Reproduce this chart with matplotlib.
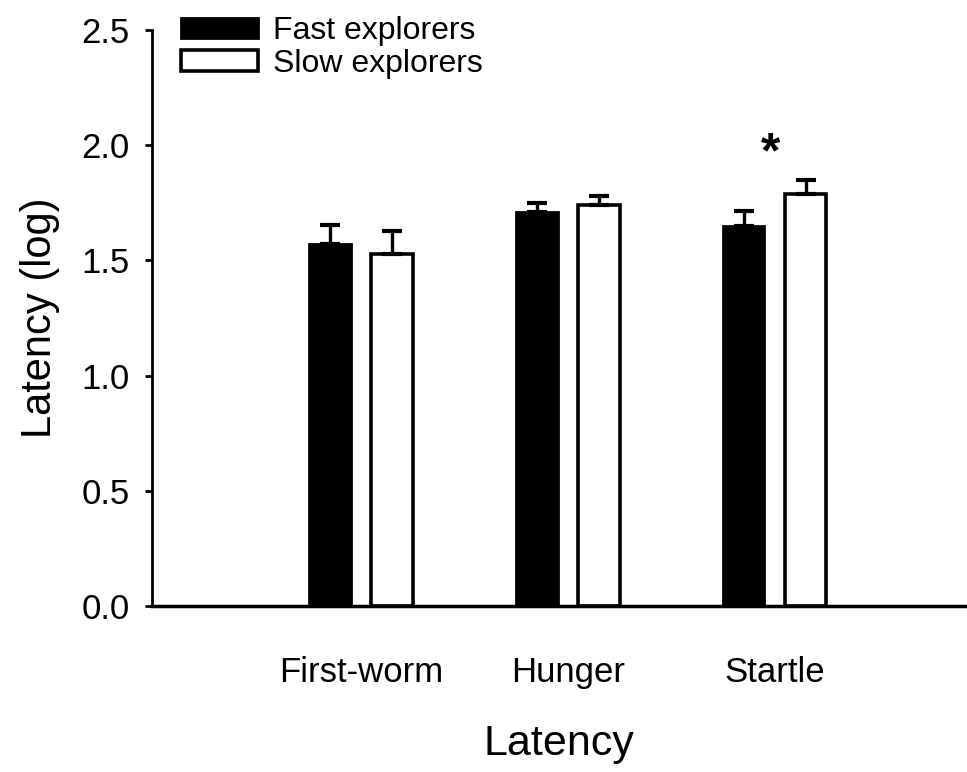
import numpy as np
import matplotlib.pyplot as plt

plt.rcParams['font.family'] = ['Liberation Sans', 'DejaVu Sans']

# data
categories = ["First-worm", "Hunger", "Startle"]
fast_mean = [1.57, 1.71, 1.65]
fast_err = [0.085, 0.04, 0.066]
slow_mean = [1.53, 1.74, 1.79]
slow_err = [0.10, 0.04, 0.06]

fig = plt.figure(figsize=(9.67, 7.72), dpi=100)
ax = fig.add_axes([0.157, 0.215, 0.843, 0.746])

x = np.arange(1, len(categories) + 1)
w = 0.2
off = 0.15

err_kw = dict(elinewidth=2.4, capthick=3, capsize=7.5, ecolor='black')
ax.bar(x - off, fast_mean, w, color='black', edgecolor='black', linewidth=2,
       yerr=[np.zeros(3), fast_err], error_kw=err_kw, label='Fast explorers', zorder=2)
ax.bar(x + off, slow_mean, w, color='white', edgecolor='black', linewidth=2.6,
       yerr=[np.zeros(3), slow_err], error_kw=err_kw, label='Slow explorers', zorder=2)

# significance marker over the startle pair
ax.text(x[2] - 0.02, 1.86, '*', ha='center', va='bottom',
        fontsize=36, fontweight='bold')

ax.set_xlim(-0.012, 3.93)
ax.set_ylim(0, 2.5)
ax.set_yticks([0.0, 0.5, 1.0, 1.5, 2.0, 2.5])
ax.set_yticklabels(['0.0', '0.5', '1.0', '1.5', '2.0', '2.5'])
ax.set_xticks(x)
ax.set_xticklabels(categories)
ax.tick_params(axis='y', direction='out', length=5, width=2, labelsize=25, pad=11)
ax.tick_params(axis='x', length=0, labelsize=25, pad=36)

for s in ['top', 'right']:
    ax.spines[s].set_visible(False)
ax.spines['left'].set_linewidth(2)
ax.spines['bottom'].set_linewidth(2.5)

ax.set_ylabel('Latency (log)', fontsize=30)
ax.yaxis.set_label_coords(-0.113, 0.5)
ax.set_xlabel('Latency', fontsize=31)
ax.xaxis.set_label_coords(0.5, -0.205)

ax.legend(loc='upper left', bbox_to_anchor=(0.0356, 1.024), frameon=False, fontsize=23,
          handlelength=2.4, handleheight=0.62, handletextpad=0.5, labelspacing=0.08,
          borderpad=0, borderaxespad=0)

fig.savefig('out.png', dpi=100)
